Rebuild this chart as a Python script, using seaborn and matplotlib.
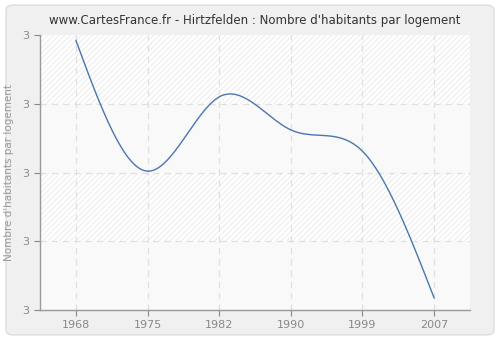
import numpy as np
import pandas as pd
import matplotlib
matplotlib.use("Agg")
import matplotlib.pyplot as plt
from matplotlib.patches import FancyBboxPatch
import seaborn as sns

years = ["1968", "1975", "1982", "1990", "1999", "2007"]
values = [3.385, 3.004, 3.220, 3.124, 3.062, 2.635]
ytick_values = [2.6, 2.8, 3.0, 3.2, 3.4]

sns.set_theme(style="white")
plt.rcParams['font.family'] = ['DejaVu Sans']
plt.rcParams['hatch.color'] = '#e8e8e8'
plt.rcParams['hatch.linewidth'] = 0.6

def natural_spline(x, y, n=300):
    x = np.asarray(x, float); y = np.asarray(y, float)
    k = len(x); h = np.diff(x)
    A = np.zeros((k, k)); b = np.zeros(k)
    A[0, 0] = A[-1, -1] = 1
    for i in range(1, k - 1):
        A[i, i - 1] = h[i - 1]; A[i, i] = 2 * (h[i - 1] + h[i]); A[i, i + 1] = h[i]
        b[i] = 3 * ((y[i + 1] - y[i]) / h[i] - (y[i] - y[i - 1]) / h[i - 1])
    c = np.linalg.solve(A, b)
    xs = np.linspace(x[0], x[-1], n); ys = np.empty_like(xs)
    for j, xv in enumerate(xs):
        i = min(np.searchsorted(x, xv, side='right') - 1, k - 2)
        d = xv - x[i]
        bi = (y[i + 1] - y[i]) / h[i] - h[i] * (2 * c[i] + c[i + 1]) / 3
        di = (c[i + 1] - c[i]) / (3 * h[i])
        ys[j] = y[i] + bi * d + c[i] * d ** 2 + di * d ** 3
    return xs, ys

pos = np.arange(len(years))
xs, ys = natural_spline(pos, values)
curve = pd.DataFrame({"x": xs, "y": ys})

fig = plt.figure(figsize=(5, 3.4), dpi=100)
fig.patch.set_facecolor("white")
bg = FancyBboxPatch((0.012, 0.015), 0.976, 0.97, boxstyle="round,pad=0,rounding_size=0.015",
                    transform=fig.transFigure, facecolor="#f0f0f0", edgecolor="#dddddd",
                    linewidth=1, zorder=-10)
fig.patches.append(bg)

ax = fig.add_axes([0.08, 0.088, 0.86, 0.809])
ax.set_facecolor("white")
ax.set_xlim(-0.5, 5.5)
ax.set_ylim(2.6, 3.4)

# alternating bands: hatched white / plain light grey
for i in range(len(ytick_values) - 1):
    lo, hi = ytick_values[i], ytick_values[i + 1]
    if i % 2 == 0:
        ax.axhspan(lo, hi, facecolor="#f9f9f9", edgecolor="none", zorder=0)
    else:
        ax.axhspan(lo, hi, facecolor="#ffffff", edgecolor="#e8e8e8", hatch="//////",
                   linewidth=0, zorder=0)

for p in pos:
    ax.axvline(p, color="#e0e0e0", linestyle=(0, (5, 4)), linewidth=0.9, zorder=1)
for t in ytick_values[1:-1]:
    ax.axhline(t, color="#e0e0e0", linestyle=(0, (5, 4)), linewidth=0.9, zorder=1)

sns.lineplot(data=curve, x="x", y="y", ax=ax, color="#4a76b0", linewidth=1.0, zorder=3)

ax.set_xticks(pos)
ax.set_xticklabels(years)
ax.set_yticks(ytick_values)
ax.set_yticklabels(["%.0f" % v for v in ytick_values])
ax.tick_params(axis="both", colors="#888888", labelcolor="#888888", labelsize=8,
               length=4, width=0.8, direction="out", left=True, bottom=True)
ax.set_xlabel("")
ax.set_ylabel("Nombre d'habitants par logement", color="#999999", fontsize=7.5, labelpad=6)
for s in ["top", "right"]:
    ax.spines[s].set_visible(False)
for s in ["left", "bottom"]:
    ax.spines[s].set_color("#999999")
    ax.spines[s].set_linewidth(1.0)
ax.set_title("www.CartesFrance.fr - Hirtzfelden : Nombre d'habitants par logement",
             fontsize=8.5, color="#333333", pad=8)

fig.savefig("out.png", dpi=100)
